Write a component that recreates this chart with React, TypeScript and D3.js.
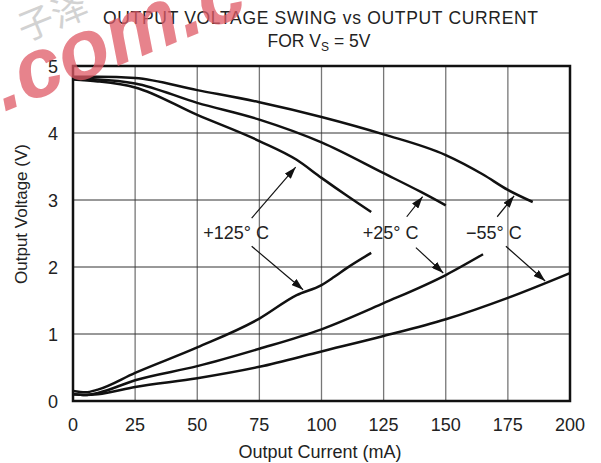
import React from "react";
import * as d3 from "d3";

// ---- data (Output Current mA, Output Voltage V) ----
const xTicks = [0, 25, 50, 75, 100, 125, 150, 175, 200];
const yTicks = [0, 1, 2, 3, 4, 5];

const srcM55I = [0, 10, 25, 50, 75, 100, 125, 150, 165, 175, 185];
const srcM55V = [4.84, 4.84, 4.82, 4.64, 4.46, 4.24, 3.98, 3.67, 3.38, 3.15, 2.97];

const src25I = [0, 10, 25, 50, 75, 100, 125, 140, 150];
const src25V = [4.81, 4.8, 4.74, 4.45, 4.2, 3.86, 3.4, 3.12, 2.92];

const src125I = [0, 10, 25, 50, 75, 90, 100, 110, 120];
const src125V = [4.8, 4.77, 4.68, 4.27, 3.88, 3.6, 3.33, 3.07, 2.82];

const snk125I = [0, 5, 10, 25, 50, 75, 90, 100, 105, 110, 120];
const snk125V = [0.15, 0.13, 0.17, 0.42, 0.8, 1.23, 1.58, 1.73, 1.85, 1.98, 2.21];

const snk25I = [0, 5, 10, 25, 50, 75, 100, 125, 150, 165];
const snk25V = [0.1, 0.09, 0.12, 0.31, 0.52, 0.78, 1.07, 1.46, 1.88, 2.19];

const snkM55I = [0, 5, 10, 25, 50, 75, 100, 125, 150, 175, 200];
const snkM55V = [0.1, 0.09, 0.1, 0.21, 0.34, 0.51, 0.74, 0.97, 1.22, 1.54, 1.91];

// annotation labels: text, x (mA), y (V, baseline)
const labelText = ["+125° C", "+25° C", "\u221255° C"];
const labelX = [65.6, 127.8, 169.4];
const labelY = [2.42, 2.42, 2.42];

// arrows: from (mA,V) to tip (mA,V)
const arrowFromI = [71.9, 71.9, 134.3, 138, 170.7, 174.2];
const arrowFromV = [2.73, 2.31, 2.75, 2.29, 2.75, 2.31];
const arrowToI = [89.6, 92.6, 140.7, 149, 177.5, 190];
const arrowToV = [3.49, 1.66, 3.05, 1.91, 3.06, 1.79];

const W = 601;
const H = 463;
const m = { left: 73, right: 570, top: 66, bottom: 401 };

export default function App() {
  const x = d3.scaleLinear().domain([0, 200]).range([m.left, m.right]);
  const y = d3.scaleLinear().domain([0, 5]).range([m.bottom, m.top]);
  const line = d3
    .line<[number, number]>()
    .x((d) => x(d[0]))
    .y((d) => y(d[1]))
    .curve(d3.curveMonotoneX);

  const series: [number[], number[]][] = [
    [srcM55I, srcM55V],
    [src25I, src25V],
    [src125I, src125V],
    [snk125I, snk125V],
    [snk25I, snk25V],
    [snkM55I, snkM55V],
  ];

  const font = "'Liberation Sans', Arial, Helvetica, sans-serif";

  return (
    <svg
      width={W}
      height={H}
      style={{ position: "fixed", left: 0, top: 0, background: "#fff" }}
      fontFamily={font}
    >
      <defs>
        <marker
          id="ah"
          viewBox="0 0 12 8"
          refX="12"
          refY="4"
          markerWidth="12"
          markerHeight="8"
          markerUnits="userSpaceOnUse"
          orient="auto"
        >
          <path d="M0,0 L12,4 L0,8 Z" fill="#111" />
        </marker>
      </defs>
      <rect width={W} height={H} fill="#fff" />

      {/* grid */}
      {xTicks.slice(1, -1).map((t) => (
        <line key={"gx" + t} x1={x(t)} x2={x(t)} y1={y(5)} y2={y(0)} stroke="#777" strokeWidth={1.3} />
      ))}
      {yTicks.slice(1, -1).map((t) => (
        <line key={"gy" + t} x1={x(0)} x2={x(200)} y1={y(t)} y2={y(t)} stroke="#333" strokeWidth={1} />
      ))}
      {/* frame */}
      <rect
        x={x(0)}
        y={y(5)}
        width={x(200) - x(0)}
        height={y(0) - y(5)}
        fill="none"
        stroke="#111"
        strokeWidth={2.5}
      />

      {/* curves */}
      {series.map(([is, vs], k) => (
        <path
          key={"s" + k}
          d={line(is.map((v, i) => [v, vs[i]] as [number, number])) || ""}
          fill="none"
          stroke="#111"
          strokeWidth={2.5}
          strokeLinejoin="round"
        />
      ))}

      {/* arrows */}
      {arrowFromI.map((v, i) => (
        <line
          key={"a" + i}
          x1={x(v)}
          y1={y(arrowFromV[i])}
          x2={x(arrowToI[i])}
          y2={y(arrowToV[i])}
          stroke="#111"
          strokeWidth={1.2}
          markerEnd="url(#ah)"
        />
      ))}
      {labelText.map((t, i) => (
        <text key={"l" + i} x={x(labelX[i])} y={y(labelY[i])} fontSize={18} textAnchor="middle" fill="#222">
          {t}
        </text>
      ))}

      {/* tick labels */}
      {xTicks.map((t) => (
        <text key={"tx" + t} x={x(t)} y={431} fontSize={18} textAnchor="middle" fill="#222">
          {t}
        </text>
      ))}
      {yTicks.map((t) => (
        <text key={"ty" + t} x={58} y={y(t) + 6.5} fontSize={18} textAnchor="end" fill="#222">
          {t}
        </text>
      ))}

      {/* axis titles */}
      <text x={320} y={458} fontSize={18} textAnchor="middle" fill="#222">
        Output Current (mA)
      </text>
      <text
        transform={`translate(27,214) rotate(-90)`}
        fontSize={17}
        textAnchor="middle"
        fill="#222"
      >
        Output Voltage (V)
      </text>

      {/* title */}
      <text
        x={103}
        y={24}
        fontSize={17.5}
        textLength={435}
        lengthAdjust="spacing"
        fill="#222"
      >
        OUTPUT VOLTAGE SWING vs OUTPUT CURRENT
      </text>
      <text x={319} y={47} fontSize={17.5} textAnchor="middle" fill="#222">
        FOR V<tspan fontSize={12} dy={4}>S</tspan>
        <tspan dy={-4}> = 5V</tspan>
      </text>

      {/* watermark */}
      <g opacity={0.75} pointerEvents="none">
        <text
          transform="translate(4,112) rotate(-22)"
          fontSize={84}
          fontWeight="bold"
          fontStyle="italic"
          fill="#e05a66"
        >
          .com.c
        </text>
        <text
          transform="translate(24,42) rotate(-22)"
          fontSize={36}
          fill="#c4c4c4"
          fontFamily="'Noto Sans CJK SC', sans-serif"
        >
          子泽
        </text>
      </g>
    </svg>
  );
}
